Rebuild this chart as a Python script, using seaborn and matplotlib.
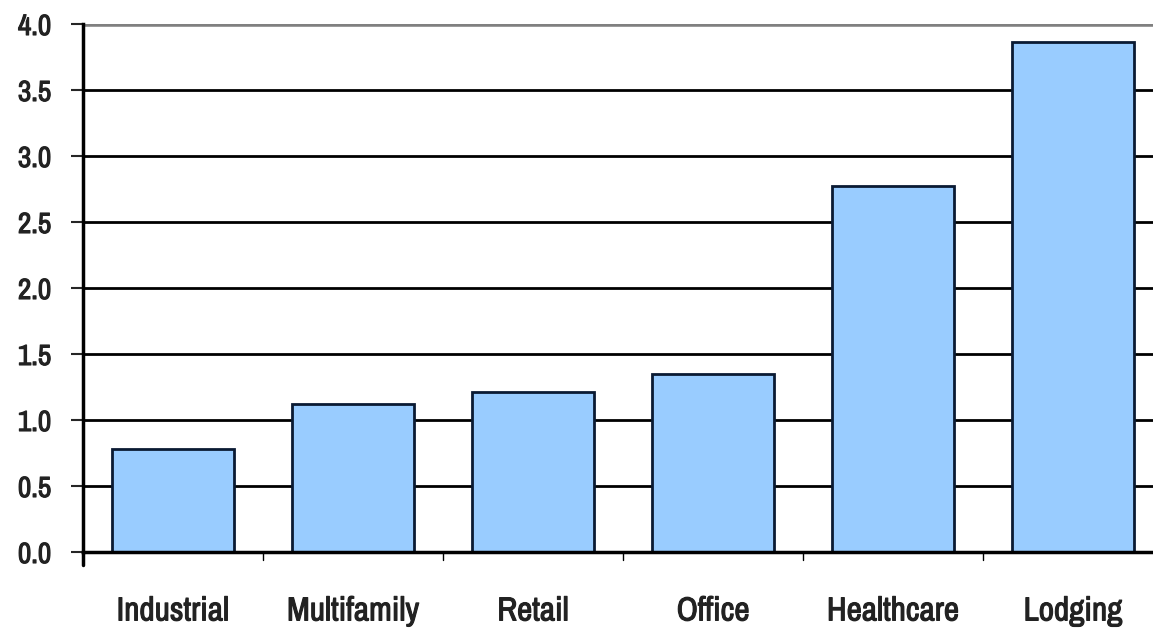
import matplotlib
matplotlib.use("Agg")
import matplotlib.pyplot as plt
import matplotlib.patheffects as pe
import seaborn as sns
import pandas as pd

# Values
categories = ["Industrial", "Multifamily", "Retail", "Office", "Healthcare", "Lodging"]
values = [0.78, 1.12, 1.21, 1.35, 2.77, 3.86]
y_ticks = [0.0, 0.5, 1.0, 1.5, 2.0, 2.5, 3.0, 3.5, 4.0]

df = pd.DataFrame({"sector": categories, "value": values})

sns.set_style("white")
# narrow face like the original
plt.rcParams["font.family"] = ["Archivo Narrow", "Liberation Sans Narrow", "DejaVu Sans"]

fig = plt.figure(figsize=(11.53, 6.31), dpi=100)
ax = fig.add_axes([83 / 1153, 1 - 552 / 631, 1 - 83 / 1153, (552 - 24) / 631])

# gridlines
for y in y_ticks[1:-1]:
    ax.axhline(y, color="black", lw=2, zorder=0)
ax.axhline(4.0, color="#808080", lw=4, zorder=0)

sns.barplot(data=df, x="sector", y="value", color="#99CCFF", edgecolor="#0a1a33",
            linewidth=2, width=0.68, saturation=1, ax=ax, zorder=2)

ax.set_ylim(0, 4.0)
ax.set_xlim(-0.5, -0.5 + (1153 - 83) / 180)
ax.set_yticks(y_ticks)
ax.set_yticklabels([f"{t:.1f}" for t in y_ticks], fontsize=21)
ax.set_xticks(range(len(categories)))
ax.set_xticklabels(categories, fontsize=24)
ax.tick_params(axis="x", length=0, pad=32)
ax.tick_params(axis="y", length=9, width=1.5, direction="out", pad=14, left=True)

# fake bold: thin stroke round the glyphs
bold = [pe.withStroke(linewidth=0.8, foreground="#222222")]
for lab in ax.get_xticklabels() + ax.get_yticklabels():
    lab.set_color("#222222")
    lab.set_path_effects(bold)

# small separators between categories below the axis
for i in range(1, len(categories)):
    ax.plot([i - 0.5, i - 0.5], [0, -0.06], color="black", lw=1, clip_on=False)

# left axis line runs a little below zero in the original
ax.plot([-0.5, -0.5], [0, -0.1], color="black", lw=2.5, clip_on=False)

ax.set_xlabel("")
ax.set_ylabel("")
for side in ["top", "right"]:
    ax.spines[side].set_visible(False)
ax.spines["left"].set_linewidth(2.5)
ax.spines["left"].set_color("black")
ax.spines["bottom"].set_linewidth(2.5)
ax.spines["bottom"].set_color("black")

fig.savefig("out.png", dpi=100, facecolor="white")
